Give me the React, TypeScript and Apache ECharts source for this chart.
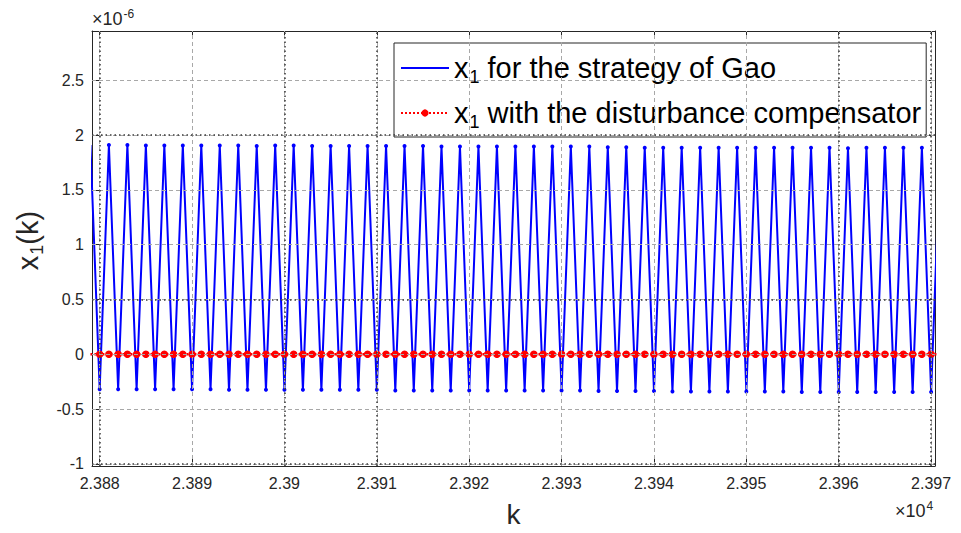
import { useEffect, useRef } from 'react';
import * as echarts from 'echarts';

// Sample index k (first sample shown) and the two state trajectories, in units of 1e-6.
const kStart = 23879;

// Gao's strategy alternates every sample: odd k -> upper value, even k -> lower value.
const gaoPeaks = [
  1.91, 1.91, 1.91, 1.905, 1.905, 1.905, 1.905, 1.905, 1.905, 1.9,
  1.905, 1.905, 1.9, 1.9, 1.9, 1.9, 1.9, 1.9, 1.9, 1.895,
  1.895, 1.895, 1.895, 1.895, 1.895, 1.895, 1.895, 1.895, 1.89, 1.89,
  1.885, 1.885, 1.885, 1.885, 1.885, 1.885, 1.885, 1.885, 1.885, 1.885,
  1.885, 1.88, 1.885, 1.885, 1.885, 1.885, 1.885,
];
const gaoValleys = [
  -0.32, -0.32, -0.32, -0.32, -0.32, -0.32, -0.32, -0.325, -0.325, -0.325,
  -0.325, -0.325, -0.325, -0.325, -0.325, -0.325, -0.33, -0.33, -0.33, -0.33,
  -0.33, -0.33, -0.33, -0.33, -0.33, -0.33, -0.33, -0.335, -0.335, -0.335,
  -0.335, -0.34, -0.34, -0.34, -0.34, -0.34, -0.34, -0.34, -0.345, -0.345,
  -0.345, -0.345, -0.345, -0.345, -0.345, -0.345,
];

// With the disturbance compensator the state stays at zero.
const compensated = [
  0, 0, 0, 0, 0, 0, 0, 0, 0, 0,
  0, 0, 0, 0, 0, 0, 0, 0, 0, 0,
  0, 0, 0, 0, 0, 0, 0, 0, 0, 0,
  0, 0, 0, 0, 0, 0, 0, 0, 0, 0,
  0, 0, 0, 0, 0, 0, 0, 0, 0, 0,
  0, 0, 0, 0, 0, 0, 0, 0, 0, 0,
  0, 0, 0, 0, 0, 0, 0, 0, 0, 0,
  0, 0, 0, 0, 0, 0, 0, 0, 0, 0,
  0, 0, 0, 0, 0, 0, 0, 0, 0, 0,
  0, 0, 0,
];

const xTicks = [23880, 23890, 23900, 23910, 23920, 23930, 23940, 23950, 23960, 23970];
const yTicks = [-1, -0.5, 0, 0.5, 1, 1.5, 2, 2.5];
const xStrongGrid = [23880, 23900, 23910, 23960, 23970];
const yStrongGrid = [-1, 0.5, 2];

const seriesNames = ['x1 for the strategy of Gao', 'x1 with the disturbance compensator'];

const X_MIN = 23879.17;
const X_MAX = 23970.42;
const Y_MIN = -1.02;
const Y_MAX = 2.95;

const FONT = '"Liberation Sans", Arial, Helvetica, sans-serif';
const INK = '#262626';

function gaoPoints(): [number, number][] {
  const pts: [number, number][] = [];
  const n = gaoPeaks.length + gaoValleys.length;
  for (let i = 0; i < n; i++) {
    const v = i % 2 === 0 ? gaoPeaks[i / 2] : gaoValleys[(i - 1) / 2];
    pts.push([kStart + i, v]);
  }
  return pts;
}

function compensatedPoints(): [number, number][] {
  return compensated.map((v, i) => [kStart + i, v] as [number, number]);
}

const fmtK = (v: number) => String(+(v / 1e4).toFixed(3));

// "×10^n" axis multiplier as a title with a raised exponent.
const multiplier = (exp: string, left: number, top: number) => ({
  text: `{a|×10}{b|${exp}}`,
  left,
  top,
  padding: 0,
  itemGap: 0,
  textStyle: {
    color: INK,
    fontFamily: FONT,
    fontSize: 18,
    fontWeight: 'normal',
    rich: {
      a: { fontSize: 18, lineHeight: 20, color: INK, fontFamily: FONT, fontWeight: 'normal' },
      b: { fontSize: 12, lineHeight: 12, padding: [0, 0, 10, 1], color: INK, fontFamily: FONT, fontWeight: 'normal' },
    },
  },
});

export default function App() {
  const ref = useRef<HTMLDivElement>(null);

  useEffect(() => {
    if (!ref.current) return;
    const chart = echarts.init(ref.current, undefined, { renderer: 'svg' });

    const frameAxisX = (position: 'bottom' | 'top', main: boolean) => ({
      type: 'value',
      position,
      min: X_MIN,
      max: X_MAX,
      axisLine: { show: true, onZero: false, lineStyle: { color: INK, width: 1 } },
      axisTick: { show: true, inside: true, length: 7, customValues: xTicks, lineStyle: { color: INK, width: 1 } },
      axisLabel: main
        ? { show: true, customValues: xTicks, formatter: fmtK, fontSize: 16, color: INK, fontFamily: FONT, margin: 9 }
        : { show: false },
      splitLine: { show: false },
      ...(main
        ? {
            name: 'k',
            nameLocation: 'middle',
            nameGap: 34,
            nameTextStyle: { fontSize: 28, color: INK, fontFamily: FONT },
          }
        : {}),
    });

    const frameAxisY = (position: 'left' | 'right', main: boolean) => ({
      type: 'value',
      position,
      min: Y_MIN,
      max: Y_MAX,
      axisLine: { show: true, onZero: false, lineStyle: { color: INK, width: 1 } },
      axisTick: { show: true, inside: true, length: 7, customValues: yTicks, lineStyle: { color: INK, width: 1 } },
      axisLabel: main
        ? { show: true, customValues: yTicks, formatter: (v: number) => String(v), fontSize: 16, color: INK, fontFamily: FONT, margin: 8 }
        : { show: false },
      splitLine: { show: false },
      ...(main
        ? {
            name: '{m|x}{s|1}{m|(k)}',
            nameLocation: 'middle',
            nameRotate: 90,
            nameGap: 38,
            nameTextStyle: {
              color: INK,
              fontFamily: FONT,
              padding: [0, 0, 0, 16],
              rich: {
                m: { fontSize: 29, lineHeight: 34, color: INK, fontFamily: FONT },
                s: { fontSize: 18, lineHeight: 16, padding: [18, 0, 0, 1], color: INK, fontFamily: FONT },
              },
            },
          }
        : {}),
    });

    const gridLine = (color: string, type: any, width: number) => ({ color, type, width });

    chart.setOption({
      animation: false,
      backgroundColor: '#ffffff',
      title: [multiplier('-6', 92, 9), multiplier('4', 895, 501)],
      grid: { left: 92, right: 26, top: 31, bottom: 64, containLabel: false },
      xAxis: [frameAxisX('bottom', true), frameAxisX('top', false)],
      yAxis: [frameAxisY('left', true), frameAxisY('right', false)],
      legend: {
        data: [
          { name: seriesNames[0], itemStyle: { opacity: 0 } },
          { name: seriesNames[1] },
        ],
        orient: 'vertical',
        left: 394,
        top: 43,
        padding: [7, 5, 6, 6],
        itemGap: 9,
        itemWidth: 48,
        itemHeight: 9,
        backgroundColor: '#ffffff',
        borderColor: INK,
        borderWidth: 1,
        borderRadius: 0,
        selectedMode: false,
        formatter: (name: string) => `{m|x}{s|1}{m|${name.slice(2)}}`,
        textStyle: {
          color: '#000000',
          fontFamily: FONT,
          fontSize: 29,
          rich: {
            m: { fontSize: 29, lineHeight: 34, color: '#000000', fontFamily: FONT },
            s: { fontSize: 18, lineHeight: 16, padding: [18, 0, 0, 1], color: '#000000', fontFamily: FONT },
          },
        },
      },
      series: [
        {
          type: 'line',
          name: 'grid',
          data: [],
          silent: true,
          z: 1,
          markLine: {
            silent: true,
            symbol: 'none',
            label: { show: false },
            animation: false,
            data: [
              ...xTicks.map((v) => ({ xAxis: v, lineStyle: gridLine('#a8a8a8', [4, 3], 1) })),
              ...yTicks.map((v) => ({ yAxis: v, lineStyle: gridLine('#a8a8a8', [4, 3], 1) })),
            ],
          },
        },
        {
          type: 'line',
          name: 'grid-strong',
          data: [],
          silent: true,
          z: 1,
          markLine: {
            silent: true,
            symbol: 'none',
            label: { show: false },
            animation: false,
            data: [
              ...xStrongGrid.map((v) => ({ xAxis: v, lineStyle: gridLine('#3a3a3a', [1.5, 3], 1.5) })),
              ...yStrongGrid.map((v) => ({ yAxis: v, lineStyle: gridLine('#3a3a3a', [1.5, 3], 1.5) })),
            ],
          },
        },
        {
          type: 'line',
          name: seriesNames[0],
          data: gaoPoints(),
          z: 3,
          symbol: 'circle',
          symbolSize: 4,
          showSymbol: true,
          color: '#0000ff',
          itemStyle: { color: '#0000ff' },
          lineStyle: { color: '#0000ff', width: 2 },
          clip: true,
        },
        {
          type: 'line',
          name: seriesNames[1],
          data: compensatedPoints(),
          z: 4,
          symbol: 'circle',
          symbolSize: 7.5,
          showSymbol: true,
          color: '#ff0000',
          itemStyle: { color: '#ff0000' },
          lineStyle: { color: '#ff0000', width: 2.5, type: [2, 2] },
          clip: true,
        },
      ],
    });

    return () => chart.dispose();
  }, []);

  return (
    <div
      ref={ref}
      style={{ position: 'fixed', left: 0, top: 0, width: 961, height: 533, background: '#ffffff' }}
    />
  );
}
